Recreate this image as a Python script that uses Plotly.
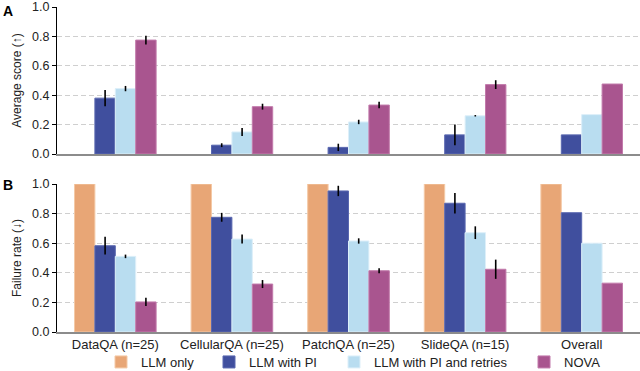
import plotly.graph_objects as go
from plotly.subplots import make_subplots

categories = ["DataQA (n=25)", "CellularQA (n=25)", "PatchQA (n=25)", "SlideQA (n=15)", "Overall"]
series = ["LLM only", "LLM with PI", "LLM with PI and retries", "NOVA"]

score_llm_only = [0, 0, 0, 0, 0]
score_pi = [0.38, 0.06, 0.045, 0.13, 0.13]
score_retries = [0.445, 0.15, 0.218, 0.26, 0.268]
score_nova = [0.775, 0.322, 0.333, 0.472, 0.476]
score_err_llm_only = [0, 0, 0, 0, 0]
score_err_pi = [0.055, 0.013, 0.025, 0.07, 0]
score_err_retries = [0.018, 0.027, 0.015, 0.005, 0]
score_err_nova = [0.03, 0.02, 0.022, 0.03, 0]

fail_llm_only = [1.0, 1.0, 1.0, 1.0, 1.0]
fail_pi = [0.583, 0.775, 0.953, 0.87, 0.806]
fail_retries = [0.511, 0.628, 0.615, 0.671, 0.60]
fail_nova = [0.203, 0.324, 0.414, 0.424, 0.33]
fail_err_llm_only = [0, 0, 0, 0, 0]
fail_err_pi = [0.06, 0.03, 0.035, 0.07, 0]
fail_err_retries = [0.012, 0.03, 0.018, 0.043, 0]
fail_err_nova = [0.028, 0.027, 0.017, 0.065, 0]

y_ticks = [0.0, 0.2, 0.4, 0.6, 0.8, 1.0]

colors = ["#E8A676", "#404F9E", "#B9DDF0", "#A9558F"]
edge = ["#F4C9A6", "#5A68B0", "#DDEFF9", "#C27AAB"]
legend_widths = [63, 80, 145, 40]

score_vals = [score_llm_only, score_pi, score_retries, score_nova]
score_errs = [score_err_llm_only, score_err_pi, score_err_retries, score_err_nova]
fail_vals = [fail_llm_only, fail_pi, fail_retries, fail_nova]
fail_errs = [fail_err_llm_only, fail_err_pi, fail_err_retries, fail_err_nova]

FONT = "Liberation Sans, Arial, sans-serif"

fig = make_subplots(rows=2, cols=1, shared_xaxes=True, vertical_spacing=0.09)

for i, name in enumerate(series):
    fig.add_trace(go.Bar(
        x=categories, y=score_vals[i], name=name, legendgroup=name, showlegend=False,
        marker=dict(color=colors[i], line=dict(color=edge[i], width=0 if i == 0 else 1)),
        error_y=dict(type="data", array=score_errs[i], color="black", thickness=1.6, width=0,
                     visible=True),
    ), row=1, col=1)
for i, name in enumerate(series):
    fig.add_trace(go.Bar(
        x=categories, y=fail_vals[i], name=name, legendgroup=name, showlegend=True,
        legendwidth=legend_widths[i],
        marker=dict(color=colors[i], line=dict(color=edge[i], width=1)),
        error_y=dict(type="data", array=fail_errs[i], color="black", thickness=1.6, width=0,
                     visible=True),
    ), row=2, col=1)

H_TOP, H_BOT = 7, 39
plot_h = 371 - H_TOP - H_BOT
domA = [(332 - 154) / plot_h, 1.0]
domB = [0.0, (332 - 184) / plot_h]

yaxis_common = dict(
    range=[0, 1.0], tickvals=y_ticks, tickformat=".1f",
    showline=True, linecolor="black", linewidth=1.2,
    ticks="outside", ticklen=4, tickcolor="black", tickwidth=1,
    showgrid=True, gridcolor="#CFCFCF", griddash="5px,3px", gridwidth=1,
    zeroline=False, automargin=False, ticklabeloverflow="allow",
    tickfont=dict(size=12.5, color="#222", family=FONT),
    title_font=dict(size=12, color="#222", family=FONT),
)
fig.update_layout(
    yaxis=dict(domain=domA, title=dict(text="Average score (↑)", standoff=7), **yaxis_common),
    yaxis2=dict(domain=domB, title=dict(text="Failure rate (↓)", standoff=7), **yaxis_common),
)
xaxis_common = dict(
    showline=True, linecolor="#8C8C8C", linewidth=1.5, ticks="", showgrid=False,
    range=[-0.5, 4.5], automargin=False,
    tickfont=dict(size=13, color="#222", family=FONT),
)
fig.update_xaxes(**xaxis_common)
fig.update_xaxes(showticklabels=False, row=1, col=1)

fig.update_layout(
    width=640, height=371,
    margin=dict(l=57, r=0, t=H_TOP, b=H_BOT, autoexpand=False),
    paper_bgcolor="white", plot_bgcolor="white",
    barmode="group", bargap=0.3, bargroupgap=0.0,
    font=dict(family=FONT, size=12, color="#222"),
    legend=dict(orientation="h", x=(101 - 57) / 583, xanchor="left", xref="paper",
                y=1 - 362 / 371, yanchor="middle", yref="container",
                bgcolor="rgba(0,0,0,0)",
                font=dict(size=13, family=FONT, color="#222"), traceorder="normal"),
    annotations=[
        dict(text="<b>A</b>", x=0, y=1, xref="paper", yref="paper", xanchor="left", yanchor="top",
             xshift=-56, yshift=6, showarrow=False, font=dict(size=14, family=FONT, color="black")),
        dict(text="<b>B</b>", x=0, y=domB[1], xref="paper", yref="paper", xanchor="left", yanchor="top",
             xshift=-56, yshift=9, showarrow=False, font=dict(size=14, family=FONT, color="black")),
    ],
)

fig.write_html("out.html", config={"displayModeBar": False},
               post_script="document.body.style.margin='0';document.body.style.overflow='hidden';")
